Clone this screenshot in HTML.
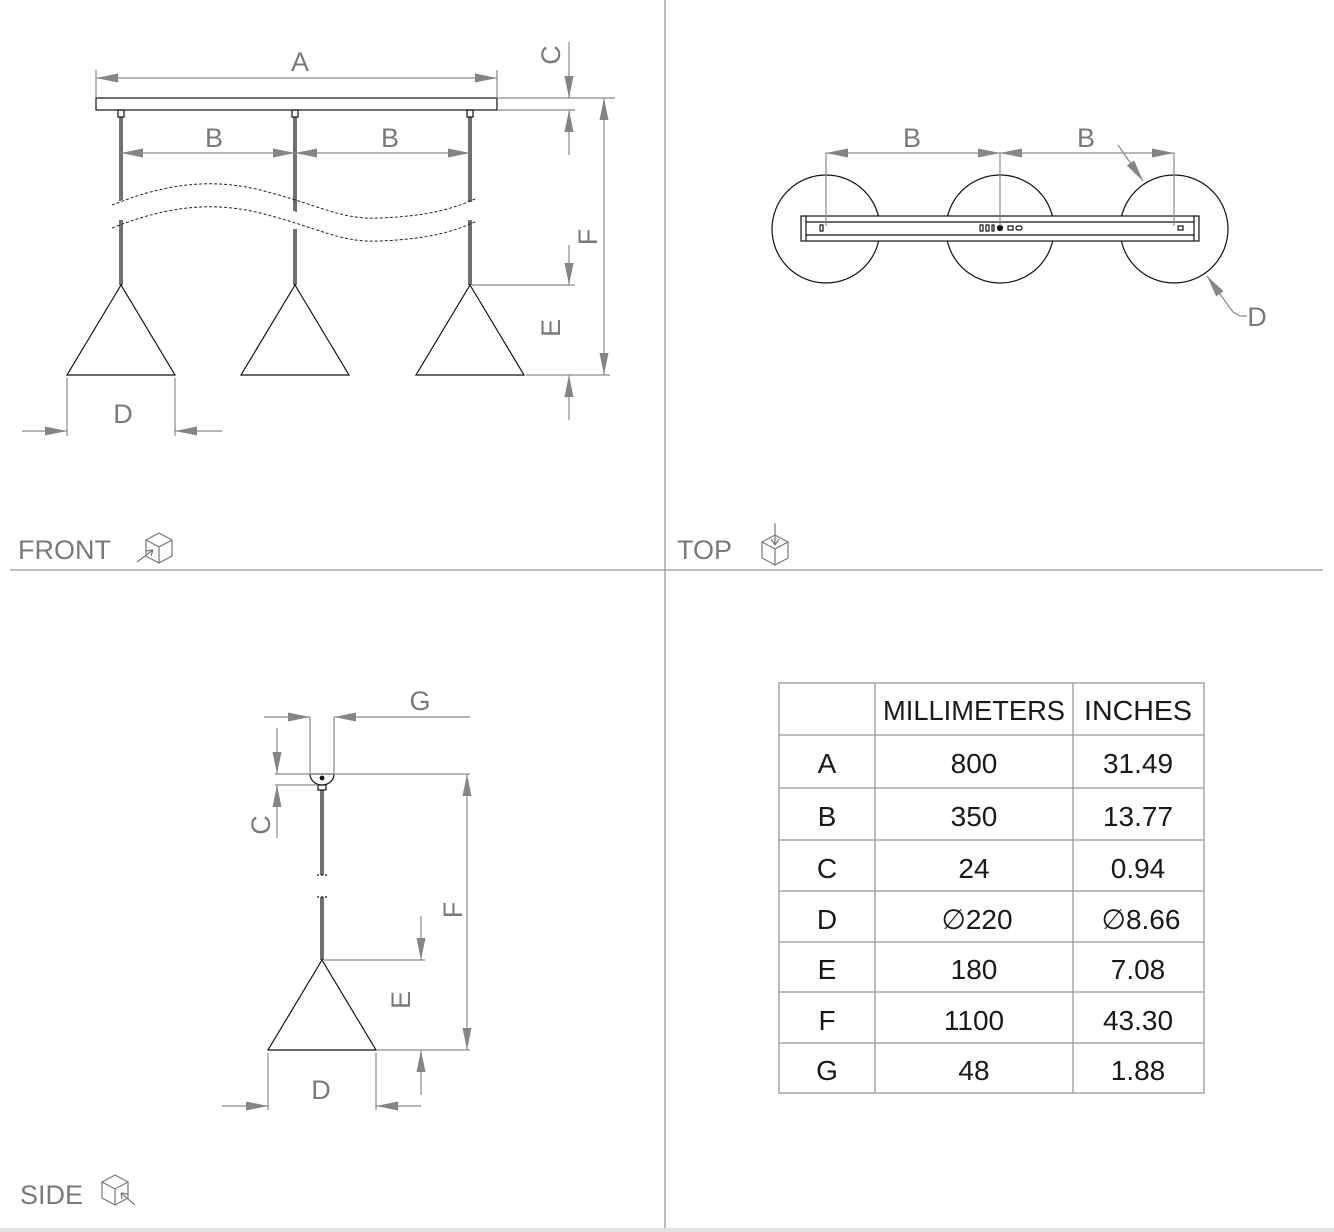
<!DOCTYPE html>
<html><head><meta charset="utf-8"><style>
html,body{margin:0;padding:0;background:#fff}
svg{display:block}
.d{stroke:#8a8a8a;stroke-width:1.2;fill:none}
.k{stroke:#111;stroke-width:1.2;fill:none}
.t{font-family:"Liberation Sans",sans-serif;fill:#7a7a7a;font-size:27px}
.tb{font-family:"Liberation Sans",sans-serif;fill:#1a1a1a;font-size:28px;text-anchor:middle}
.g{stroke:#999;stroke-width:1.3;fill:none}
</style></head><body>
<svg width="1334" height="1232" viewBox="0 0 1334 1232" xmlns="http://www.w3.org/2000/svg">
<defs>
<marker id="ar" markerUnits="userSpaceOnUse" markerWidth="24" markerHeight="12" refX="22" refY="4.5" orient="auto-start-reverse"><path d="M0,0 L22,4.5 L0,9 z" fill="#858585"/></marker>
<g id="cube" stroke="#777" stroke-width="1.2" fill="none"><path d="M0,-15 L13,-8 L13,8 L0,15 L-13,8 L-13,-8 Z M-13,-8 L0,-1 L13,-8 M0,-1 L0,15"/></g>
</defs>
<rect x="0" y="1228" width="1334" height="4" fill="#dde1e4"/>
<line class="g" x1="665" y1="0" x2="665" y2="1228"/>
<line class="g" x1="10" y1="570" x2="1323" y2="570"/>

<!-- FRONT -->
<rect x="96" y="98" width="401" height="12" class="k"/>
<g class="k">
<rect x="118" y="110" width="6" height="7"/><rect x="292" y="110" width="6" height="7"/><rect x="467" y="110" width="6" height="7"/>
<path d="M120,117 V201 M122,117 V200 M120,220 V285 M122,220 V285"/>
<path d="M294,117 V211 M296,117 V212 M294,229 V285 M296,229 V285"/>
<path d="M469,117 V202 M471,117 V202 M469,220 V285 M471,220 V285"/>
<path d="M121,285 L67,375 H175 Z M295,285 L241,375 H349 Z M470,285 L416,375 H524 Z"/>
</g>
<g stroke="#222" stroke-width="1" fill="none" stroke-dasharray="3,2">
<path d="M112,205 C150,190 200,175 260,190 C320,205 340,220 380,218 C430,216 455,208 477,198"/>
<path d="M112,228 C150,213 200,198 260,213 C320,228 340,243 380,241 C430,239 455,231 477,221"/>
</g>
<g class="d">
<path d="M96,98 V70 M497,98 V70"/>
<line x1="96" y1="78" x2="497" y2="78" marker-start="url(#ar)" marker-end="url(#ar)"/>
<path d="M497,98 H615 M497,110 H575"/>
<line x1="569" y1="42" x2="569" y2="98" marker-end="url(#ar)"/>
<line x1="569" y1="155" x2="569" y2="110" marker-end="url(#ar)"/>
<line x1="121" y1="153" x2="295" y2="153" marker-start="url(#ar)" marker-end="url(#ar)"/>
<line x1="295" y1="153" x2="470" y2="153" marker-start="url(#ar)" marker-end="url(#ar)"/>
<line x1="604" y1="98" x2="604" y2="375" marker-start="url(#ar)" marker-end="url(#ar)"/>
<path d="M472,285 H575 M526,375 H610"/>
<line x1="569" y1="245" x2="569" y2="285" marker-end="url(#ar)"/>
<line x1="569" y1="420" x2="569" y2="375" marker-end="url(#ar)"/>
<path d="M67,378 V436 M175,378 V436"/>
<line x1="22" y1="431" x2="67" y2="431" marker-end="url(#ar)"/>
<line x1="222" y1="431" x2="175" y2="431" marker-end="url(#ar)"/>
</g>
<text class="t" x="300" y="71" text-anchor="middle">A</text>
<text class="t" x="214" y="147" text-anchor="middle">B</text>
<text class="t" x="390" y="147" text-anchor="middle">B</text>
<text class="t" x="123" y="423" text-anchor="middle">D</text>
<text class="t" transform="translate(560,55) rotate(-90)" text-anchor="middle">C</text>
<text class="t" transform="translate(560,328) rotate(-90)" text-anchor="middle">E</text>
<text class="t" transform="translate(597,237) rotate(-90)" text-anchor="middle">F</text>
<text class="t" x="18" y="559">FRONT</text>
<use href="#cube" x="159" y="548"/>
<path d="M137,562 L153,550 M153,550 l-7,1 M153,550 l-2,6" stroke="#777" stroke-width="1.2" fill="none"/>

<!-- TOP -->
<g class="k">
<circle cx="826" cy="229" r="54"/><circle cx="1000" cy="229" r="54"/><circle cx="1174" cy="229" r="54"/>
</g>
<rect x="801" y="216" width="398" height="25" fill="#fff" stroke="#111" stroke-width="1.2"/>
<g class="k" stroke-width="1">
<path d="M806,216 V241 M1194,216 V241 M806,222 H1194 M806,235 H1194"/>
<rect x="820" y="225" width="3" height="6"/>
<rect x="980" y="225" width="3" height="6"/><rect x="986" y="225" width="3" height="6"/><rect x="992" y="225" width="2" height="6"/>
<circle cx="1000" cy="228" r="2.5" fill="#111"/>
<rect x="1008" y="226" width="5" height="4"/><rect x="1016" y="226" width="6" height="4" rx="2"/>
<rect x="1178" y="226" width="5" height="4"/>
</g>
<g class="d">
<path d="M826,153 V226 M1000,153 V226 M1174,153 V226"/>
<line x1="826" y1="153" x2="1000" y2="153" marker-start="url(#ar)" marker-end="url(#ar)"/>
<line x1="1000" y1="153" x2="1174" y2="153" marker-start="url(#ar)" marker-end="url(#ar)"/>
<line x1="1118" y1="145" x2="1143" y2="181" marker-end="url(#ar)"/>
<line x1="1233" y1="312" x2="1207" y2="276" marker-end="url(#ar)"/>
<path d="M1233,312 L1240,316 H1247"/>
</g>
<text class="t" x="912" y="147" text-anchor="middle">B</text>
<text class="t" x="1086" y="147" text-anchor="middle">B</text>
<text class="t" x="1257" y="326" text-anchor="middle">D</text>
<text class="t" x="677" y="559">TOP</text>
<use href="#cube" x="775" y="550"/>
<path d="M775,523 V545 M775,545 l-4,-6 M775,545 l4,-6" stroke="#777" stroke-width="1.2" fill="none"/>

<!-- SIDE -->
<g class="k">
<path d="M310,774 H334 A12,11 0 0 1 310,774 Z"/>
<circle cx="322" cy="778" r="1.8" fill="#111"/>
<rect x="318" y="785" width="8" height="5"/>
<path d="M321,790 V875 M323,790 V875 M321,897 V960 M323,897 V960"/>
<path d="M317,875 H327 M317,897 H327" stroke-dasharray="2,2"/>
<path d="M322,960 L268,1050 H376 Z"/>
</g>
<g class="d">
<path d="M310,774 V717 M334,774 V717"/>
<line x1="264" y1="717" x2="310" y2="717" marker-end="url(#ar)"/>
<line x1="470" y1="717" x2="334" y2="717" marker-end="url(#ar)"/>
<path d="M275,774 H470 M275,785 H318"/>
<line x1="277" y1="728" x2="277" y2="774" marker-end="url(#ar)"/>
<line x1="277" y1="838" x2="277" y2="785" marker-end="url(#ar)"/>
<line x1="467" y1="774" x2="467" y2="1050" marker-start="url(#ar)" marker-end="url(#ar)"/>
<path d="M324,960 H425 M377,1050 H470"/>
<line x1="421" y1="916" x2="421" y2="960" marker-end="url(#ar)"/>
<line x1="421" y1="1095" x2="421" y2="1050" marker-end="url(#ar)"/>
<path d="M268,1053 V1110 M376,1053 V1110"/>
<line x1="222" y1="1106" x2="268" y2="1106" marker-end="url(#ar)"/>
<line x1="421" y1="1106" x2="376" y2="1106" marker-end="url(#ar)"/>
</g>
<text class="t" x="420" y="710" text-anchor="middle">G</text>
<text class="t" x="321" y="1099" text-anchor="middle">D</text>
<text class="t" transform="translate(270,825) rotate(-90)" text-anchor="middle">C</text>
<text class="t" transform="translate(410,1000) rotate(-90)" text-anchor="middle">E</text>
<text class="t" transform="translate(462,910) rotate(-90)" text-anchor="middle">F</text>
<text class="t" x="20" y="1204">SIDE</text>
<use href="#cube" x="115" y="1190"/>
<path d="M135,1205 L121,1193 M121,1193 l7,1 M121,1193 l1,6" stroke="#777" stroke-width="1.2" fill="none"/>

<!-- TABLE -->
<g stroke="#999" stroke-width="1.3" fill="none">
<rect x="779" y="683" width="425" height="410"/>
<path d="M875,683 V1093 M1073,683 V1093"/>
<path d="M779,735 H1204 M779,788 H1204 M779,840 H1204 M779,891 H1204 M779,942 H1204 M779,992 H1204 M779,1043 H1204"/>
</g>
<g class="tb">
<text x="974" y="720" textLength="182" lengthAdjust="spacingAndGlyphs">MILLIMETERS</text>
<text x="1138" y="720" textLength="108" lengthAdjust="spacingAndGlyphs">INCHES</text>
<text x="827" y="773">A</text><text x="974" y="773">800</text><text x="1138" y="773">31.49</text>
<text x="827" y="826">B</text><text x="974" y="826">350</text><text x="1138" y="826">13.77</text>
<text x="827" y="878">C</text><text x="974" y="878">24</text><text x="1138" y="878">0.94</text>
<text x="827" y="929">D</text><text x="977" y="929">∅220</text><text x="1141" y="929">∅8.66</text>
<text x="827" y="979">E</text><text x="974" y="979">180</text><text x="1138" y="979">7.08</text>
<text x="827" y="1030">F</text><text x="974" y="1030">1100</text><text x="1138" y="1030">43.30</text>
<text x="827" y="1080">G</text><text x="974" y="1080">48</text><text x="1138" y="1080">1.88</text>
</g>
</svg>
</body></html>
